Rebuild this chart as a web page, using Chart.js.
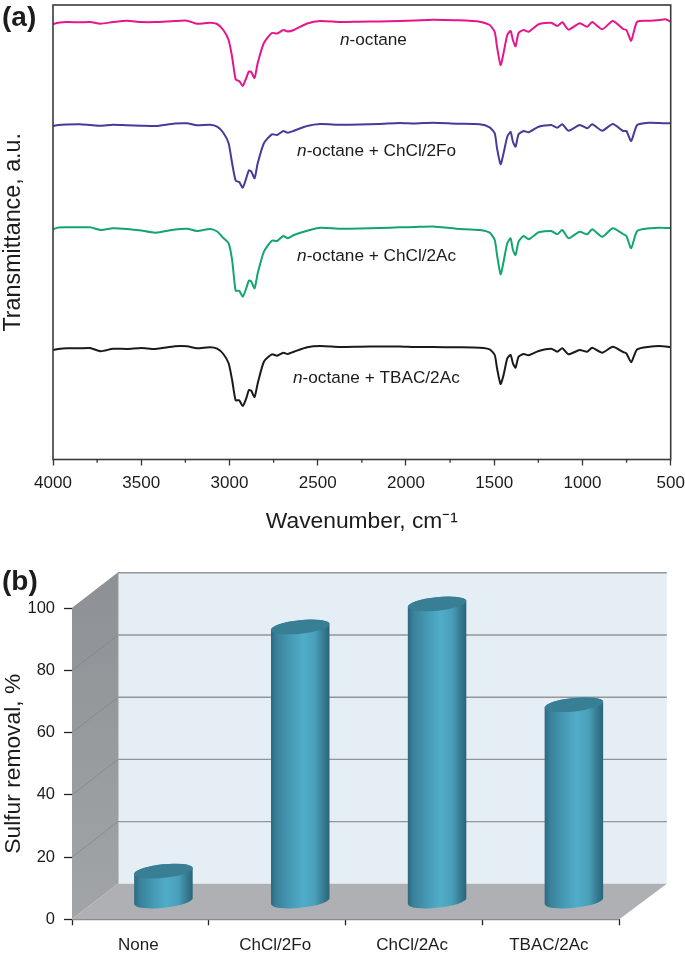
<!DOCTYPE html>
<html><head><meta charset="utf-8">
<style>html,body{margin:0;padding:0;background:#fff}canvas{position:absolute;left:0;display:block}</style>
<script src="https://cdn.jsdelivr.net/npm/chart.js@4"></script>
</head><body>
<canvas id="a" width="685" height="540" style="top:0"></canvas>
<canvas id="b" width="685" height="416" style="top:540px"></canvas>
<script>
const wavenumbers=[4000,3970,3920,3850,3790,3730,3660,3580,3500,3420,
3310,3240,3185,3110,3070,3035,3005,2985,2965,2945,
2925,2905,2890,2877,2858,2840,2805,2760,2730,2695,
2670,2635,2560,2485,2375,2262,2150,2035,1950,1847,
1715,1582,1526,1497,1484,1464,1447,1426,1407,1394,
1379,1362,1333,1305,1248,1177,1143,1114,1079,1016,
973,945,888,828,770,751,724,690,620,563,
529,500];
const octane=[436,437.3,438,437.7,438,436.3,438,439.3,438,438,
439,439.3,436.3,437.3,436,430,420,403,380.5,379,
374,382,388.5,388,382,397,417,427,426.5,430,
428.5,430,436.5,439,438,438.3,438.5,439,439.5,440.3,
439.7,438.3,435,428,413,395,407,425,429,420,
413.7,427,430,428.3,435.7,437.3,434,437.7,430.3,436.7,
433.3,438,430.7,439,431,430,419.3,438.3,439.3,440,
440.7,438.3];
const octaneChCl2Fo=[334,335,335.5,335.7,335,334.3,335.3,334.7,334.3,334,
336.5,336.7,334.7,335.3,333.3,327.3,316.7,296.7,279.3,278,
272.3,281.7,289.7,288.7,281.7,296.7,316.7,325.7,325,329,
327.3,329.3,334,336,335.3,335.5,336,337,336.5,337.3,
336.3,335.7,332.7,326.7,311.7,295.7,306.7,323.3,328,318.3,
313.3,325.7,329,327.7,333.3,335,332.3,335.7,329.3,335,
331.7,335.7,329.3,336,329,329,319,335,337.3,337,
336.7,336.7];
const octaneChCl2Ac=[230.7,232.5,232.7,232.7,232.7,230,231.7,231,229.5,227.3,
230.5,231.3,229,231,228.5,222,216.7,200,169.3,169.3,
163.3,171.7,179.3,178.7,171.7,186.7,208.3,219.3,219,224,
221.7,225,229.3,232.3,231.3,231.5,232,232.7,233,233.5,
231.3,230,227.3,220,205,185.7,198.3,216.7,221.7,210,
205,218.3,224,220.7,227.7,229,225.7,230,221.7,228.3,
225.7,230.7,223.3,231.7,226,224,211.7,229,231.7,232.3,
232,232];
const octaneTBAC2Ac=[110,111,111.7,111.7,112,108.7,111.3,111,112,111,
113.7,113.7,111.7,112.7,111.3,106,96.7,80,59.7,59.7,
54,61.7,70,69.3,63,76.7,98.3,105.7,104.3,107.3,
106,108.3,112.7,114,113,113.3,113.5,113.5,113,113,
112.7,112.3,110.7,105,91.7,76,85,101.7,105,96.7,
92.3,103.3,106,104.7,109,111.3,108.3,111.7,105.7,110,
108.3,112.3,107.3,113.3,108,106.7,97.7,110.7,113.3,114,
113.5,112.7];
const traceLabels=["-octane","-octane + ChCl/2Fo","-octane + ChCl/2Ac","-octane + TBAC/2Ac"];
const minorTicks=[3750,3250,2750,2250,1750,1250,750];
const removalCategories=["None","ChCl/2Fo","ChCl/2Ac","TBAC/2Ac"];
const sulfurRemoval=[9.8,88.3,95.7,63.3];

const FF='"Liberation Sans", Arial, sans-serif', INK='#1c1c1c';
const pts=v=>wavenumbers.map((w,i)=>({x:w,y:v[i]}));
const line=(label,data,c)=>({label,data:pts(data),borderColor:c,backgroundColor:c,borderWidth:2,pointRadius:0,tension:.2,borderJoinStyle:'round',fill:false});
const labelSpots=[[2374,420],[2617,309],[2617,204],[2640,82]];

new Chart(document.getElementById('a'),{type:'line',
 data:{datasets:[line('n-octane',octane,'#e5168c'),line('n-octane + ChCl/2Fo',octaneChCl2Fo,'#463b98'),
  line('n-octane + ChCl/2Ac',octaneChCl2Ac,'#13a56f'),line('n-octane + TBAC/2Ac',octaneTBAC2Ac,'#1a1a1a')]},
 options:{responsive:false,animation:false,events:[],
  layout:{padding:{left:0,right:14.3,top:5,bottom:0}},
  plugins:{legend:{display:false},tooltip:{enabled:false}},
  scales:{
   x:{type:'linear',reverse:true,min:500,max:4000,
    ticks:{stepSize:500,autoSkip:false,maxRotation:0,padding:8,color:INK,font:{family:FF,size:17},callback:v=>String(v)},
    grid:{drawOnChartArea:false,drawTicks:true,tickLength:6,tickColor:'#333',tickWidth:1.3},
    border:{display:false},
    title:{display:true,text:'Wavenumber, cm⁻¹',color:INK,font:{family:FF,size:22.8},padding:{top:0,bottom:5}},
    afterFit(s){s.height=80.5;s.paddingLeft=0;s.paddingRight=0}},
   y:{min:.5,max:455,ticks:{display:false},grid:{display:false},border:{display:false},
    title:{display:true,text:'Transmittance, a.u.',color:INK,font:{family:FF,size:23.3},padding:0},
    afterFit(s){s.width=53;s.paddingTop=0;s.paddingBottom=0}}
  }},
 plugins:[{id:'frame',afterDraw(c){
  const g=c.ctx,a=c.chartArea,x=c.scales.x,y=c.scales.y;
  g.save();g.strokeStyle='#3a3a3a';g.lineWidth=1.6;g.strokeRect(a.left,a.top,a.right-a.left,a.bottom-a.top);
  g.lineWidth=1.3;g.strokeStyle='#333';minorTicks.forEach(w=>{const p=x.getPixelForValue(w);g.beginPath();g.moveTo(p,a.bottom);g.lineTo(p,a.bottom+3.2);g.stroke()});
  g.fillStyle=INK;g.textBaseline='middle';
  traceLabels.forEach((t,i)=>{
   const px=x.getPixelForValue(labelSpots[i][0]),py=y.getPixelForValue(labelSpots[i][1]);
   g.font='italic 17.2px '+FF;g.fillText('n',px,py);const w=g.measureText('n').width;
   g.font='17.2px '+FF;g.fillText(t,px+w,py);
  });
  g.font='bold 28px '+FF;g.fillText('(a)',2,18);
  g.restore();
 }}]
});

const DX=46,DY=35.5;
new Chart(document.getElementById('b'),{type:'bar',
 data:{labels:removalCategories,datasets:[{label:'Sulfur removal, %',data:sulfurRemoval,backgroundColor:'#4aa8c4',barPercentage:.43,categoryPercentage:1}]},
 options:{responsive:false,animation:false,events:[],
  layout:{padding:{left:0,right:65.7,top:68.3,bottom:0}},
  plugins:{legend:{display:false},tooltip:{enabled:false}},
  scales:{
   x:{offset:true,ticks:{padding:10,color:INK,maxRotation:0,autoSkip:false,labelOffset:-2,font:{family:FF,size:17}},
    grid:{offset:true,drawOnChartArea:false,drawTicks:true,tickLength:6,tickColor:'#222',tickWidth:1.3},
    border:{display:false},afterFit(s){s.height=36.7;s.paddingLeft=0;s.paddingRight=0}},
   y:{min:0,max:100,ticks:{stepSize:20,padding:9,color:INK,font:{family:FF,size:16.5}},
    grid:{drawOnChartArea:false,drawTicks:true,tickLength:8,tickColor:'#222',tickWidth:1.3},
    border:{display:false},
    title:{display:true,text:'Sulfur removal, %',color:INK,font:{family:FF,size:22.8},padding:0},
    afterFit(s){s.width=72;s.paddingTop=0;s.paddingBottom=0}}
  }},
 plugins:[{id:'box3d',
  beforeDatasetsDraw(c){
   const g=c.ctx,a=c.chartArea,y=c.scales.y,L=a.left,R=a.right,T=a.top,B=a.bottom;
   const poly=(p,f)=>{g.beginPath();p.forEach((q,i)=>i?g.lineTo(q[0],q[1]):g.moveTo(q[0],q[1]));g.closePath();g.fillStyle=f;g.fill()};
   g.save();
   poly([[L+DX,T-DY],[R+DX+1.5,T-DY],[R+DX+1.5,B-DY],[L+DX,B-DY]],'#e6eef5');
   const sg=g.createLinearGradient(0,T-DY,0,B);sg.addColorStop(0,'#8d9094');sg.addColorStop(1,'#a2a5a8');
   poly([[L,T],[L+DX,T-DY],[L+DX,B-DY],[L,B]],sg);
   poly([[L,B],[L+DX,B-DY],[R+DX+1.5,B-DY],[R,B]],'#aeb0b4');
   y.ticks.forEach(t=>{ if(t.value===0)return;
    const p=y.getPixelForValue(t.value);
    g.strokeStyle='#949596';g.lineWidth=1.4;g.beginPath();g.moveTo(L+DX,p-DY);g.lineTo(R+DX+1.5,p-DY);g.stroke();
    g.strokeStyle='#7f8285';g.lineWidth=.7;g.beginPath();g.moveTo(L,p);g.lineTo(L+DX,p-DY);g.stroke();
   });
   g.strokeStyle='#8a8b8d';g.lineWidth=1.4;g.beginPath();g.moveTo(L,B+.3);g.lineTo(R,B+.3);g.stroke();
   g.strokeStyle='#9a9b9d';g.lineWidth=1;g.beginPath();g.moveTo(L+DX,T-DY);g.lineTo(L+DX,B-DY);g.stroke();
   g.restore();
  },
  beforeDatasetDraw(c){
   const g=c.ctx,rot=-6*Math.PI/180;
   c.getDatasetMeta(0).data.forEach(b=>{
    const cx=b.x+DX/2,rx=b.width/2,ry=6.8,ty=b.y-DY/2,by=b.base-DY/2;
    const lg=g.createLinearGradient(cx-rx,0,cx+rx,0);
    lg.addColorStop(0,'#2a6a80');lg.addColorStop(.1,'#3a819a');lg.addColorStop(.3,'#4496b1');lg.addColorStop(.55,'#50adc9');
    lg.addColorStop(.75,'#4a9fba');lg.addColorStop(.9,'#357a91');lg.addColorStop(1,'#2a6477');
    g.save();g.beginPath();g.ellipse(cx,by,rx,ry,rot,0,Math.PI,false);g.ellipse(cx,ty,rx,ry,rot,Math.PI,2*Math.PI,false);g.closePath();g.fillStyle=lg;g.fill();
    g.beginPath();g.ellipse(cx,ty,rx,ry,rot,0,2*Math.PI);g.fillStyle='#387f96';g.fill();g.restore();
   });
   return false;
  },
  afterDraw(c){const g=c.ctx;g.save();g.fillStyle=INK;g.textBaseline='middle';g.font='bold 28px '+FF;g.fillText('(b)',2,42);g.restore()}
 }]
});
</script></body></html>
